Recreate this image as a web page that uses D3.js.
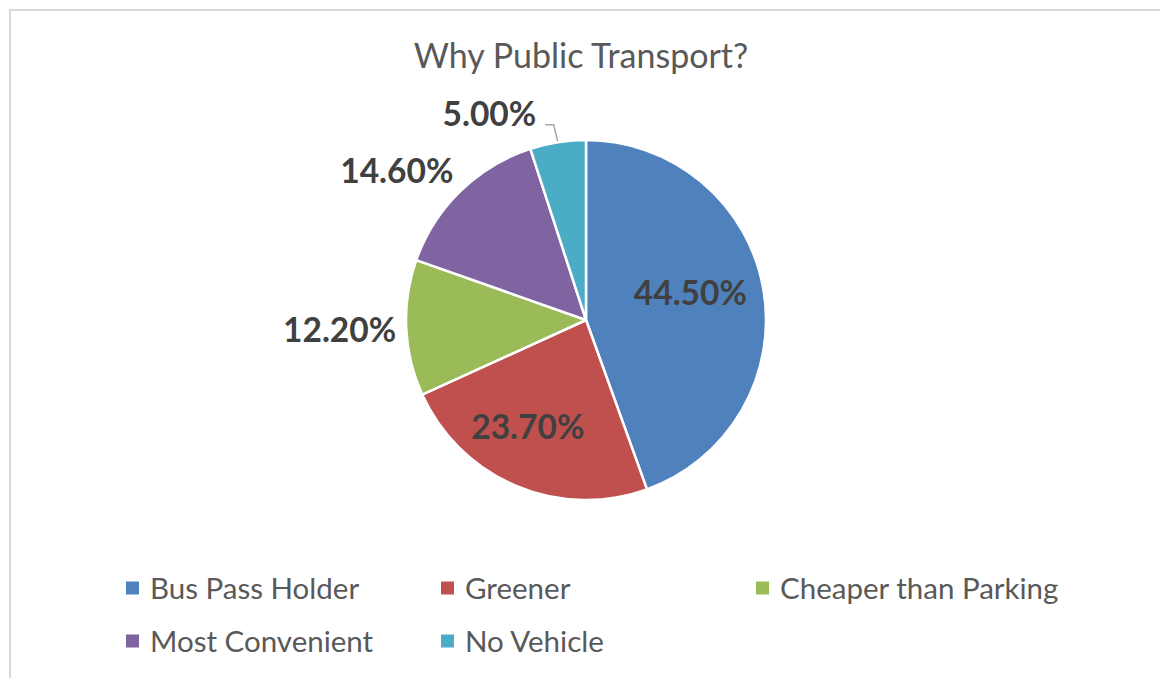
<!DOCTYPE html>
<html>
<head>
<meta charset="utf-8">
<script src="https://cdn.jsdelivr.net/npm/d3@7"></script>
<style>
  body { margin: 0; background: #fff; }
  svg { display: block; font-family: Lato, "Open Sans", sans-serif; }
</style>
</head>
<body>
<div id="chart"></div>
<script>
// chart data
const categories = ["Bus Pass Holder", "Greener", "Cheaper than Parking", "Most Convenient", "No Vehicle"];
const values = [44.5, 23.7, 12.2, 14.6, 5.0];
const colors = ["#4F81BD", "#C0504D", "#9BBB59", "#8064A2", "#4BACC6"];
const title = "Why Public Transport?";

// label placement: inside / outside / leader, plus small nudges (degrees, radius factor)
const labelLayout = [
    {mode: "in", dAngle: -5, rf: 0.60},
    {mode: "in", dAngle: 6, rf: 0.67},
    {mode: "out"},
    {mode: "out"},
    {mode: "leader", dAngle: -16, rf: 1.27}
];

const W = 1160, H = 678;
const cx = 586, cy = 320, radius = 180;

const svg = d3.select("#chart").append("svg")
    .attr("width", W)
    .attr("height", H);

// chart area border
svg.append("rect")
    .attr("x", 10).attr("y", 10)
    .attr("width", W + 20).attr("height", H + 20)
    .attr("fill", "#fff")
    .attr("stroke", "#d9d9d9")
    .attr("stroke-width", 2);

// title
svg.append("text")
    .attr("x", 581)
    .attr("y", 54)
    .attr("text-anchor", "middle")
    .attr("dominant-baseline", "central")
    .style("font-size", "34px")
    .style("fill", "#595959")
    .text(title);

const data = categories.map((c, i) => ({name: c, value: values[i], color: colors[i]}));

const pie = d3.pie().sort(null).value(d => d.value);
const arc = d3.arc().innerRadius(0).outerRadius(radius);
const arcs = pie(data);

const g = svg.append("g").attr("transform", `translate(${cx},${cy})`);

g.selectAll(".slice")
    .data(arcs)
    .join("path")
    .attr("class", "slice")
    .attr("d", arc)
    .attr("fill", d => d.data.color)
    .attr("stroke", "#fff")
    .attr("stroke-width", 2.5)
    .attr("stroke-linejoin", "round");

const fmt = d => d3.format(".2f")(d) + "%";
const deg = Math.PI / 180;

arcs.forEach((d, i) => {
    const lay = labelLayout[i];
    const mid = (d.startAngle + d.endAngle) / 2;
    const label = g.append("text")
        .attr("text-anchor", "middle")
        .attr("dominant-baseline", "central")
        .style("font-size", "33.5px")
        .style("font-weight", "bold")
        .style("fill", "#404040")
        .text(fmt(d.data.value));

    if (lay.mode === "in") {
        const a = mid + lay.dAngle * deg;
        const r = radius * lay.rf;
        label.attr("x", Math.sin(a) * r).attr("y", -Math.cos(a) * r);
    } else if (lay.mode === "out") {
        const r = radius + 10;
        const px = Math.sin(mid) * r, py = -Math.cos(mid) * r;
        const w = label.node().getComputedTextLength();
        const s = Math.sin(mid), c = Math.cos(mid);
        label.attr("x", px + Math.sign(s) * w / 2)
            .attr("y", py - c * 20);
    } else {
        const a = mid + lay.dAngle * deg;
        const r = radius * lay.rf;
        const lx = Math.sin(a) * r, ly = -Math.cos(a) * r;
        label.attr("x", lx).attr("y", ly);
        const w = label.node().getComputedTextLength();
        const sx = lx + w / 2 + 9, sy = ly + 12;
        const ex = Math.sin(mid) * (radius + 1), ey = -Math.cos(mid) * (radius + 1);
        g.append("polyline")
            .attr("points", [[sx, sy], [ex - 4, sy], [ex, ey]].map(p => p.join(",")).join(" "))
            .attr("fill", "none")
            .attr("stroke", "#a6a6a6")
            .attr("stroke-width", 1.5);
    }
});

// legend
const legend = svg.append("g");
const colW = 315, rowH = 53, perRow = 3;
const item = legend.selectAll(".item")
    .data(data)
    .join("g")
    .attr("class", "item")
    .attr("transform", (d, i) => `translate(${126 + (i % perRow) * colW},${588 + Math.floor(i / perRow) * rowH})`);

item.append("rect")
    .attr("x", 0).attr("y", -6.5)
    .attr("width", 13).attr("height", 13)
    .attr("fill", d => d.color);

item.append("text")
    .attr("x", 24)
    .attr("y", -1)
    .attr("dominant-baseline", "central")
    .style("font-size", "29.5px")
    .style("fill", "#595959")
    .text(d => d.name);
</script>
</body>
</html>
